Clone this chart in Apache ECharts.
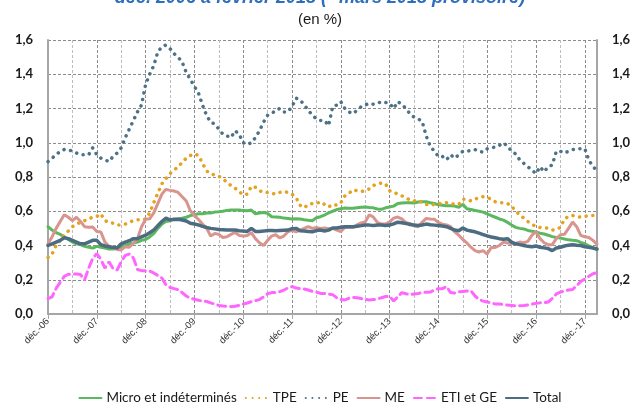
<!DOCTYPE html>
<html>
<head>
<meta charset="utf-8">
<script src="https://cdn.jsdelivr.net/npm/echarts@6/dist/echarts.min.js"></script>
<style>
  html, body { margin: 0; padding: 0; background: #fff; }
  #main { width: 640px; height: 406px; }
</style>
</head>
<body>
<div id="main"></div>
<script>
// mois de déc. 2006 à mars 2018
var moisCourts = ['janv.', 'févr.', 'mars', 'avr.', 'mai', 'juin', 'juil.', 'août', 'sept.', 'oct.', 'nov.', 'déc.'];
var categories = [];
for (var a = 2006; a <= 2018; a++) {
    for (var m = 0; m < 12; m++) {
        if (a == 2006 && m < 11) continue;
        if (a == 2018 && m > 2) break;
        categories.push(moisCourts[m] + '-' + String(a).slice(2));
    }
}

var yTicks = [0, 0.2, 0.4, 0.6, 0.8, 1.0, 1.2, 1.4, 1.6];

var microIndet = [
    0.51, 0.49, 0.475, 0.465, 0.45, 0.435, 0.42, 0.41, 0.405, 0.395, 0.39, 0.385,
    0.395, 0.39, 0.385, 0.38, 0.38, 0.385, 0.39, 0.40, 0.41, 0.415, 0.42, 0.43,
    0.435, 0.45, 0.47, 0.50, 0.525, 0.54, 0.545, 0.555, 0.555, 0.56, 0.565, 0.575,
    0.58, 0.585, 0.585, 0.59, 0.59, 0.595, 0.597, 0.60, 0.605, 0.607, 0.607, 0.607,
    0.605, 0.603, 0.607, 0.585, 0.59, 0.593, 0.588, 0.568, 0.567, 0.565, 0.56, 0.558,
    0.555, 0.556, 0.555, 0.55, 0.547, 0.545, 0.562, 0.568, 0.578, 0.59, 0.60, 0.61,
    0.615, 0.619, 0.618, 0.617, 0.62, 0.623, 0.625, 0.622, 0.62, 0.613, 0.611, 0.62,
    0.625, 0.63, 0.645, 0.648, 0.65, 0.649, 0.648, 0.654, 0.655, 0.656, 0.65, 0.645,
    0.638, 0.635, 0.632, 0.632, 0.63, 0.623, 0.64, 0.615, 0.61, 0.605, 0.60, 0.595,
    0.585, 0.575, 0.565, 0.555, 0.548, 0.535, 0.52, 0.506, 0.50, 0.497, 0.488, 0.483,
    0.479, 0.472, 0.467, 0.46, 0.452, 0.447, 0.443, 0.438, 0.433, 0.43, 0.428, 0.418,
    0.41, 0.398, 0.387, 0.375
];

var tpe = [
    0.33, 0.35, 0.40, 0.43, 0.46, 0.485, 0.51, 0.525, 0.535, 0.545, 0.555, 0.565,
    0.57, 0.585, 0.545, 0.535, 0.53, 0.52, 0.52, 0.525, 0.535, 0.545, 0.55, 0.55,
    0.555, 0.59, 0.65, 0.705, 0.76, 0.79, 0.82, 0.84, 0.86, 0.885, 0.91, 0.925,
    0.935, 0.925, 0.88, 0.835, 0.82, 0.81, 0.805, 0.79, 0.77, 0.75, 0.735, 0.715,
    0.695, 0.70, 0.745, 0.74, 0.72, 0.71, 0.71, 0.705, 0.70, 0.71, 0.715, 0.71,
    0.70, 0.68, 0.635, 0.62, 0.64, 0.645, 0.645, 0.655, 0.64, 0.625, 0.64, 0.635,
    0.65, 0.69, 0.705, 0.725, 0.72, 0.715, 0.72, 0.73, 0.75, 0.76, 0.765, 0.76,
    0.72, 0.71, 0.70, 0.69, 0.68, 0.665, 0.66, 0.665, 0.65, 0.64, 0.635, 0.64,
    0.645, 0.645, 0.65, 0.645, 0.64, 0.64, 0.67, 0.67, 0.66, 0.67, 0.68, 0.685,
    0.68, 0.67, 0.655, 0.65, 0.65, 0.645, 0.63, 0.60, 0.58, 0.56, 0.54, 0.525,
    0.51, 0.505, 0.505, 0.50, 0.49, 0.495, 0.505, 0.555, 0.57, 0.575, 0.57, 0.565,
    0.57, 0.575, 0.575, 0.575
];

var pe = [
    0.89, 0.91, 0.93, 0.95, 0.96, 0.96, 0.95, 0.94, 0.93, 0.93, 0.93, 0.97,
    0.93, 0.91, 0.90, 0.89, 0.92, 0.94, 0.97, 1.03, 1.08, 1.13, 1.18, 1.22,
    1.34, 1.40, 1.45, 1.53, 1.56, 1.57, 1.55, 1.52, 1.50, 1.47, 1.41, 1.37,
    1.33, 1.29, 1.22, 1.16, 1.12, 1.11, 1.08, 1.05, 1.04, 1.03, 1.07, 1.05,
    1.00, 0.99, 1.00, 1.03, 1.07, 1.12, 1.16, 1.17, 1.19, 1.20, 1.18, 1.18,
    1.21, 1.26, 1.25, 1.22, 1.19, 1.16, 1.14, 1.13, 1.13, 1.10, 1.21, 1.22,
    1.24, 1.20, 1.18, 1.17, 1.19, 1.21, 1.22, 1.23, 1.225, 1.23, 1.24, 1.235,
    1.23, 1.20, 1.24, 1.225, 1.20, 1.17, 1.15, 1.14, 1.125, 1.04, 0.98, 0.95,
    0.92, 0.92, 0.90, 0.93, 0.91, 0.93, 0.95, 0.95, 0.955, 0.96, 0.95, 0.945,
    0.965, 0.97, 0.975, 0.985, 1.00, 0.98, 0.95, 0.935, 0.90, 0.88, 0.86, 0.84,
    0.82, 0.86, 0.83, 0.86, 0.87, 0.95, 0.95, 0.94, 0.95, 0.96, 0.965, 0.965,
    0.965, 0.90, 0.86, 0.84
];

var me = [
    0.41, 0.45, 0.50, 0.54, 0.58, 0.565, 0.545, 0.565, 0.54, 0.51, 0.507, 0.508,
    0.482, 0.479, 0.42, 0.395, 0.385, 0.377, 0.374, 0.393, 0.39, 0.415, 0.44, 0.51,
    0.553, 0.556, 0.59, 0.645, 0.70, 0.728, 0.722, 0.718, 0.71, 0.685, 0.66, 0.603,
    0.576, 0.552, 0.525, 0.502, 0.455, 0.47, 0.465, 0.447, 0.451, 0.465, 0.476, 0.459,
    0.455, 0.459, 0.475, 0.44, 0.416, 0.40, 0.43, 0.455, 0.463, 0.444, 0.455, 0.48,
    0.49, 0.479, 0.49, 0.50, 0.51, 0.50, 0.505, 0.50, 0.502, 0.498, 0.50, 0.49,
    0.482, 0.505, 0.506, 0.506, 0.52, 0.532, 0.537, 0.58, 0.566, 0.535, 0.525, 0.525,
    0.538, 0.56, 0.566, 0.555, 0.533, 0.529, 0.515, 0.51, 0.535, 0.558, 0.555, 0.553,
    0.535, 0.525, 0.52, 0.51, 0.48, 0.46, 0.435, 0.415, 0.39, 0.37, 0.362, 0.37,
    0.35, 0.389, 0.389, 0.40, 0.42, 0.415, 0.412, 0.412, 0.42, 0.416, 0.424, 0.46,
    0.48, 0.44, 0.416, 0.405, 0.405, 0.44, 0.463, 0.465, 0.50, 0.537, 0.51, 0.459,
    0.451, 0.447, 0.43, 0.408
];

var etiGe = [
    0.09, 0.10, 0.15, 0.185, 0.22, 0.232, 0.233, 0.233, 0.23, 0.20, 0.268, 0.325,
    0.352, 0.32, 0.268, 0.305, 0.265, 0.257, 0.305, 0.342, 0.35, 0.327, 0.26, 0.253,
    0.253, 0.25, 0.24, 0.225, 0.21, 0.17, 0.155, 0.148, 0.142, 0.125, 0.105, 0.092,
    0.086, 0.08, 0.076, 0.073, 0.065, 0.058, 0.05, 0.047, 0.045, 0.043, 0.045, 0.05,
    0.058, 0.064, 0.072, 0.078, 0.084, 0.10, 0.118, 0.125, 0.125, 0.13, 0.14, 0.152,
    0.16, 0.152, 0.148, 0.146, 0.14, 0.132, 0.128, 0.12, 0.12, 0.116, 0.113, 0.095,
    0.085, 0.082, 0.092, 0.096, 0.095, 0.09, 0.085, 0.082, 0.084, 0.088, 0.095, 0.102,
    0.103, 0.076, 0.10, 0.125, 0.118, 0.113, 0.117, 0.12, 0.125, 0.127, 0.128, 0.14,
    0.148, 0.148, 0.16, 0.125, 0.122, 0.13, 0.132, 0.134, 0.136, 0.105, 0.085, 0.075,
    0.07, 0.065, 0.058, 0.058, 0.056, 0.052, 0.05, 0.047, 0.048, 0.05, 0.053, 0.058,
    0.062, 0.065, 0.066, 0.07, 0.09, 0.117, 0.128, 0.135, 0.14, 0.143, 0.165, 0.19,
    0.205, 0.22, 0.235, 0.241
];

var total = [
    0.40, 0.41, 0.42, 0.43, 0.445, 0.44, 0.43, 0.42, 0.41, 0.41, 0.42, 0.43,
    0.43, 0.405, 0.397, 0.393, 0.388, 0.385, 0.41, 0.42, 0.428, 0.44, 0.44, 0.45,
    0.46, 0.475, 0.49, 0.515, 0.54, 0.56, 0.55, 0.552, 0.553, 0.549, 0.543, 0.53,
    0.526, 0.52, 0.512, 0.505, 0.50, 0.497, 0.494, 0.492, 0.49, 0.49, 0.49, 0.486,
    0.484, 0.482, 0.50, 0.482, 0.482, 0.484, 0.488, 0.487, 0.486, 0.488, 0.489, 0.49,
    0.498, 0.50, 0.486, 0.484, 0.482, 0.48, 0.487, 0.49, 0.485, 0.49, 0.502, 0.502,
    0.506, 0.51, 0.51, 0.51, 0.513, 0.516, 0.52, 0.519, 0.517, 0.52, 0.52, 0.517,
    0.52, 0.526, 0.536, 0.533, 0.529, 0.523, 0.52, 0.517, 0.52, 0.525, 0.521, 0.519,
    0.517, 0.514, 0.51, 0.50, 0.49, 0.486, 0.502, 0.49, 0.485, 0.48, 0.472, 0.464,
    0.456, 0.45, 0.445, 0.44, 0.436, 0.44, 0.42, 0.41, 0.405, 0.40, 0.395, 0.393,
    0.397, 0.39, 0.386, 0.382, 0.37, 0.385, 0.39, 0.397, 0.402, 0.405, 0.402, 0.40,
    0.393, 0.389, 0.385, 0.38
];

function fmtVirgule(v) {
    return v.toFixed(1).replace('.', ',');
}

function axeY(position) {
    return {
        type: 'value',
        position: position,
        min: yTicks[0],
        max: yTicks[yTicks.length - 1],
        interval: 0.2,
        axisLine: { show: true, lineStyle: { color: '#a6a6a6', width: 2 } },
        axisTick: { show: false },
        axisLabel: {
            formatter: fmtVirgule,
            fontFamily: 'Lato',
            fontWeight: 'bold',
            fontSize: 13,
            color: '#1a1a1a',
            margin: 15
        },
        splitLine: {
            show: position == 'left',
            lineStyle: { color: '#8c8c8c', type: [3, 2], width: 1 }
        }
    };
}

function serieLigne(nom, data, couleur, largeur, type) {
    return {
        name: nom,
        type: 'line',
        data: data,
        symbol: 'none',
        showSymbol: false,
        smooth: false,
        lineStyle: { color: couleur, width: largeur, type: type || 'solid', cap: 'round' },
        itemStyle: { color: couleur }
    };
}

var myChart = echarts.init(document.getElementById('main'), null, { renderer: 'canvas' });

var option = {
    animation: false,
    backgroundColor: '#fff',
    graphic: [
        {
            type: 'text',
            left: 'center',
            top: -11,
            style: {
                text: 'déc. 2006 à février 2018 (* mars 2018 provisoire)',
                font: 'italic bold 18px "Liberation Sans"',
                fill: '#2f6eba'
            }
        },
        {
            type: 'text',
            left: 'center',
            top: 12,
            style: {
                text: '(en %)',
                font: '15px "Liberation Sans"',
                fill: '#1a1a1a'
            }
        }
    ],
    grid: { left: 48, right: 43, top: 40, bottom: 92, containLabel: false },
    legend: {
        top: 386,
        left: 'center',
        itemWidth: 22,
        itemHeight: 10,
        itemGap: 8,
        itemStyle: { opacity: 0 },
        textStyle: { fontFamily: 'Lato', fontSize: 13.5, color: '#1a1a1a' },
        data: ['Micro et indéterminés', 'TPE', 'PE', 'ME', 'ETI et GE', 'Total']
    },
    xAxis: {
        type: 'category',
        data: categories,
        boundaryGap: false,
        axisLine: { lineStyle: { color: '#a6a6a6', width: 2 } },
        axisTick: { interval: 11, length: 5, lineStyle: { color: '#a6a6a6' } },
        axisLabel: {
            interval: 11,
            rotate: 45,
            fontFamily: 'Liberation Sans',
            fontSize: 9.5,
            color: '#333',
            margin: 6
        },
        splitLine: {
            show: true,
            interval: 5,
            lineStyle: { color: ['#8c8c8c', '#bdbdbd'], type: [3, 2], width: 1 }
        }
    },
    yAxis: [axeY('left'), axeY('right')],
    series: [
        serieLigne('Micro et indéterminés', microIndet, '#5cb85f', 3),
        serieLigne('TPE', tpe, '#e3a321', 3.5, [0.1, 6.6]),
        serieLigne('PE', pe, '#4d7287', 3.5, [0.1, 6.6]),
        serieLigne('ME', me, '#d9948d', 3),
        serieLigne('ETI et GE', etiGe, '#ff66ff', 3, [8, 5]),
        serieLigne('Total', total, '#4c6c82', 3.5)
    ]
};

myChart.setOption(option);
</script>
</body>
</html>
